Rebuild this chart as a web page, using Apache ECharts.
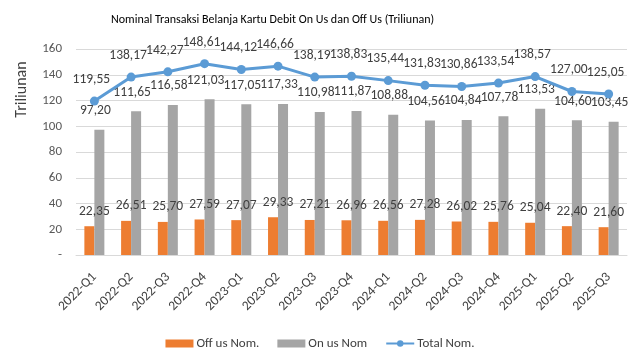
<!DOCTYPE html>
<html><head><meta charset="utf-8">
<script src="https://cdn.jsdelivr.net/npm/echarts@6/dist/echarts.min.js"></script>
<style>html,body{margin:0;padding:0;background:#fff}#c{width:640px;height:360px}</style>
</head><body><div id="c"></div>
<script>
const categories = ['2022-Q1','2022-Q2','2022-Q3','2022-Q4','2023-Q1','2023-Q2','2023-Q3','2023-Q4','2024-Q1','2024-Q2','2024-Q3','2024-Q4','2025-Q1','2025-Q2','2025-Q3'];
const offUs = [22.35,26.51,25.70,27.59,27.07,29.33,27.21,26.96,26.56,27.28,26.02,25.76,25.04,22.40,21.60];
const onUs = [97.20,111.65,116.58,121.03,117.05,117.33,110.98,111.87,108.88,104.56,104.84,107.78,113.53,104.60,103.45];
const total = [119.55,138.17,142.27,148.61,144.12,146.66,138.19,138.83,135.44,131.83,130.86,133.54,138.57,127.00,125.05];
const yTicks = [0,20,40,60,80,100,120,140,160];

const FONT = 'Carlito,"Liberation Sans",sans-serif';
const fmt = v => v.toFixed(2).replace('.', ',');
const chart = echarts.init(document.getElementById('c'));
chart.setOption({
  animation: false,
  textStyle: {fontFamily: FONT},
  title: {text: 'Nominal Transaksi Belanja Kartu Debit On Us dan Off Us (Triliunan)', left: 106, top: 9,
    textStyle: {fontFamily: FONT, fontSize: 12, fontWeight: 'normal', color: '#000'}},
  grid: {left: 76, right: 13, top: 49, bottom: 105},
  legend: {top: 332, left: 'center', itemWidth: 28, itemHeight: 8, itemGap: 18,
    textStyle: {fontFamily: FONT, fontSize: 13, color: '#404040', padding: [0,0,0,-2]},
    data: [{name: 'Off us Nom.', icon: 'rect'}, {name: 'On us Nom', icon: 'rect'}, {name: 'Total Nom.'}]},
  xAxis: {type: 'category', data: categories,
    axisLine: {lineStyle: {color: '#d9d9d9'}}, axisTick: {show: false},
    axisLabel: {rotate: 45, fontFamily: FONT, fontSize: 13.5, color: '#404040', margin: 20, interval: 0}},
  yAxis: {type: 'value', min: yTicks[0], max: yTicks[yTicks.length-1], interval: 20,
    name: 'Triliunan', nameLocation: 'middle', nameRotate: 90, nameGap: 46,
    nameTextStyle: {fontFamily: FONT, fontSize: 16, color: '#404040', padding: [0,0,0,125]},
    axisLine: {show: false}, axisTick: {show: false},
    splitLine: {lineStyle: {color: '#d9d9d9'}},
    axisLabel: {fontFamily: FONT, fontSize: 13, color: '#595959', margin: 14, formatter: v => v === 0 ? '-' : String(v)}},
  series: [
    {name: 'Off us Nom.', type: 'bar', data: offUs, barWidth: 10, barGap: '0%',
     itemStyle: {color: '#ED7D31'},
     label: {show: true, position: 'top', distance: 8, offset: [5, 0], formatter: p => fmt(p.value),
       fontFamily: FONT, fontSize: 13.5, color: '#404040'}},
    {name: 'On us Nom', type: 'bar', data: onUs, barWidth: 10,
     itemStyle: {color: '#A5A5A5'},
     label: {show: true, position: 'top', distance: 12, offset: [-4, 0], formatter: p => fmt(p.value),
       fontFamily: FONT, fontSize: 13.5, color: '#404040'}},
    {name: 'Total Nom.', type: 'line', data: total, symbol: 'circle', symbolSize: 9,
     lineStyle: {color: '#5B9BD5', width: 3}, itemStyle: {color: '#5B9BD5'},
     label: {show: true, position: 'top', distance: 10, offset: [-3, 0], formatter: p => fmt(p.value),
       fontFamily: FONT, fontSize: 13.5, color: '#404040'}}
  ]
});
</script></body></html>
